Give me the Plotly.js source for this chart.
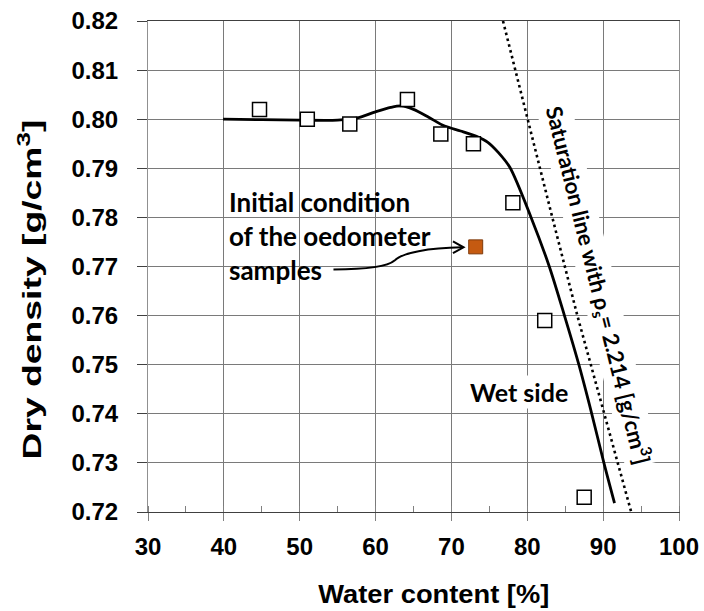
<!DOCTYPE html>
<html>
<head>
<meta charset="utf-8">
<script src="https://cdn.plot.ly/plotly-3.0.1.min.js"></script>
<style>html,body{margin:0;padding:0;background:#fff;}#chart{width:704px;height:611px;}</style>
</head>
<body>
<div id="chart"></div>
<script>
// Measured compaction points (open squares)
const wMeasured = [44.7, 51.0, 56.6, 64.2, 68.6, 72.9, 78.1, 82.3, 87.5];
const rhoMeasured = [0.802, 0.800, 0.799, 0.804, 0.797, 0.795, 0.783, 0.759, 0.723];

// Initial condition of the oedometer samples (filled orange square)
const wInitial = [73.2];
const rhoInitial = [0.774];

// Fitted compaction curve
const wCurve = [39.9, 45, 50, 55, 57.5, 60, 62, 63.4, 65, 67, 69.1, 71.2, 73.3, 74.8, 76.2, 77.7, 80.5, 82.9, 84.9, 86.8, 88.5, 90.1, 91.5];
const rhoCurve = [0.8000, 0.7999, 0.7998, 0.7998, 0.8002, 0.8015, 0.8024, 0.8027, 0.8020, 0.8004, 0.7986, 0.7976, 0.7965, 0.7953, 0.7932, 0.7902, 0.7800, 0.7700, 0.7600, 0.7500, 0.7400, 0.7300, 0.7218];

// Saturation line (dotted)
const wSat = [76.8, 80.0, 83.3, 86.6, 90.2, 93.7];
const rhoSat = [0.82, 0.80, 0.78, 0.76, 0.74, 0.72];

// Axis ticks
const xTicks = [30, 40, 50, 60, 70, 80, 90, 100];
const yTicks = [0.72, 0.73, 0.74, 0.75, 0.76, 0.77, 0.78, 0.79, 0.80, 0.81, 0.82];

const traces = [
  {x: wSat, y: rhoSat, mode: 'lines', type: 'scatter',
   line: {color: '#000', width: 2.6, dash: '2.6px,3.4px'}, hoverinfo: 'skip'},
  {x: wCurve, y: rhoCurve, mode: 'lines', type: 'scatter',
   line: {color: '#000', width: 2.8, shape: 'spline', smoothing: 0.8}, hoverinfo: 'skip'},
  {x: wMeasured, y: rhoMeasured, mode: 'markers', type: 'scatter',
   marker: {symbol: 'square', size: 14, color: '#fff', line: {color: '#000', width: 1.5}}},
  {x: wInitial, y: rhoInitial, mode: 'markers', type: 'scatter',
   marker: {symbol: 'square', size: 14, color: '#C55A11', line: {color: '#7f3a0c', width: 1}}}
];

const tickFont = {family: 'Liberation Sans, Arial, sans-serif', size: 24, color: '#000', weight: 700};
const noteFont = {family: 'Lato, sans-serif', size: 26, color: '#000', weight: 700};

const layout = {
  width: 704, height: 611,
  margin: {l: 148, r: 25, t: 21, b: 99},
  paper_bgcolor: '#fff', plot_bgcolor: '#fff',
  showlegend: false,
  xaxis: {
    range: [30, 100], tickvals: xTicks, ticktext: xTicks.map(String),
    showgrid: true, gridcolor: '#7a7a7a', gridwidth: 1,
    showline: true, mirror: true, linecolor: '#404040', linewidth: 1,
    ticks: 'outside', ticklen: 8, tickcolor: '#808080', tickwidth: 1,
    minor: {dtick: 5, tick0: 30, ticks: 'inside', ticklen: 6, tickcolor: '#808080', showgrid: false},
    tickfont: tickFont, ticklabelstandoff: 5, zeroline: false, fixedrange: true
  },
  yaxis: {
    range: [0.72, 0.82], tickvals: yTicks, ticktext: yTicks.map(v => v.toFixed(2)),
    showgrid: true, gridcolor: '#7a7a7a', gridwidth: 1,
    showline: true, mirror: true, linecolor: '#909090', linewidth: 1,
    ticks: 'outside', ticklen: 10, tickcolor: '#404040', tickwidth: 1,
    tickfont: tickFont, ticklabelstandoff: 14, zeroline: false, fixedrange: true
  },
  shapes: [
    {type: 'path', xref: 'x', yref: 'y',
     path: 'M 54.45,0.7694 C 58,0.7694 61.5,0.7698 62.5,0.7712 C 63.5,0.7728 67,0.7738 71.4,0.7739',
     line: {color: '#000', width: 2}},
    {type: 'path', xref: 'x', yref: 'y',
     path: 'M 70.2,0.7751 L 71.6,0.7739 L 70.2,0.7727',
     line: {color: '#000', width: 2}}
  ],
  annotations: [
    {xref: 'paper', yref: 'paper', x: (433.5 - 148) / 531, y: (512 - 594) / 491,
     text: 'Water content [%]', showarrow: false, xanchor: 'center', yanchor: 'middle',
     font: {family: 'Liberation Sans, Arial, sans-serif', size: 25, color: '#000', weight: 700}},
    {xref: 'paper', yref: 'paper', x: (31 - 148) / 531, y: (512 - 290) / 491,
     text: 'Dry density [g/cm<sup>3</sup>]', showarrow: false, textangle: -90,
     xanchor: 'center', yanchor: 'middle',
     font: {family: 'Liberation Sans, Arial, sans-serif', size: 26, color: '#000', weight: 700}},
    {xref: 'x', yref: 'y', x: 40.4, y: 0.7762,
     text: 'Initial condition<br>of the oedometer<br>samples', showarrow: false, align: 'left',
     xanchor: 'left', yanchor: 'middle', font: noteFont},
    {xref: 'x', yref: 'y', x: 78.85, y: 0.7445, text: 'Wet side', showarrow: false,
     bgcolor: '#fff', font: {family: 'Lato, sans-serif', size: 25, color: '#000', weight: 700}},
    {xref: 'x', yref: 'y', x: 89.3, y: 0.7662,
     text: 'Saturation line with ρ<sub>s</sub>= 2.214 [g/cm<sup>3</sup>]', showarrow: false,
     textangle: 76, bgcolor: '#fff', font: {family: 'Lato, sans-serif', size: 22, color: '#000', weight: 700}}
  ]
};

Plotly.newPlot('chart', traces, layout, {displayModeBar: false, staticPlot: true}).then(function (gd) {
  // stretch the axis titles to the lengths seen in the reference
  const stretch = {'Dry density': 340, 'Water content': 231};
  gd.querySelectorAll('text.annotation-text').forEach(function (t) {
    Object.keys(stretch).forEach(function (k) {
      if (t.textContent.indexOf(k) === 0) {
        t.setAttribute('textLength', stretch[k]);
        t.setAttribute('lengthAdjust', 'spacingAndGlyphs');
      }
    });
  });
});
</script>
</body>
</html>
